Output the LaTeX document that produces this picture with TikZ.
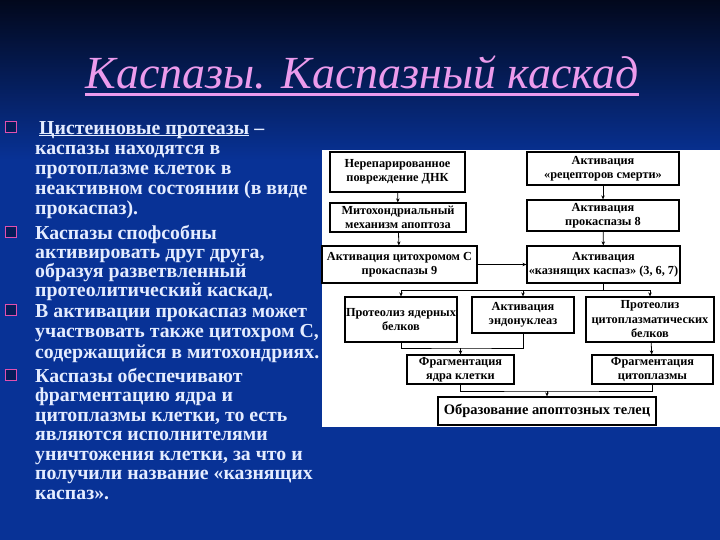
\documentclass[tikz,border=0pt]{standalone}
\usepackage{fontspec}
\setmainfont{Liberation Serif}
\usetikzlibrary{positioning,arrows.meta}
\definecolor{slideTop}{RGB}{2,8,28}
\definecolor{slideBlue}{RGB}{8,50,150}
\definecolor{titlePink}{RGB}{236,155,236}
\definecolor{textPale}{RGB}{228,236,255}
\definecolor{bulletPink}{RGB}{225,80,175}

\begin{document}
\begin{tikzpicture}[
    x=1pt, y=-1pt,
    box/.style={draw, line width=1.2pt, fill=white, inner sep=1pt, align=center, text=black, font=\bfseries\fontsize{12.3}{13.6}\selectfont},
    para/.style={anchor=north west, inner sep=0pt, align=left, text=textPale, font=\bfseries\fontsize{19.8}{19.5}\selectfont},
    bul/.style={draw=bulletPink, fill=slideTop!50!slideBlue, line width=1.4pt, minimum size=10.5pt, inner sep=0pt},
    arr/.style={-{Stealth[length=4pt,width=3.5pt]}, line width=0.8pt},
    link/.style={line width=0.8pt},
]
\useasboundingbox (0,0) rectangle (720,540);
% slide background
\shade[top color=slideTop, bottom color=slideBlue] (0,0) rectangle (720,160);
\fill[slideBlue] (0,160) rectangle (720,540);

% Title
\node[inner sep=0pt, text=titlePink, font=\itshape\fontsize{46}{50}\selectfont] (ttl) at (362,72) {Каспазы. Каспазный каскад};
\draw[titlePink, line width=3pt] ([yshift=-6pt]ttl.base west) -- ([yshift=-6pt]ttl.base east);

% white panel
\fill[white] (322,150) rectangle (720,427);

% Bullets
\node[bul] (q1) at (11,127) {};
\node[bul] (q2) at (11,232) {};
\node[bul] (q3) at (11,310) {};
\node[bul] (q4) at (11,375) {};
\node[para, font=\bfseries\fontsize{19.8}{20}\selectfont] (t1) at (35,121) {\hspace{4pt}\underline{\smash{Цистеиновые протеазы}}\vphantom{Ц} –\\каспазы находятся в\\протоплазме клеток в\\неактивном состоянии (в виде\\прокаспаз).};
\node[para, font=\bfseries\fontsize{19.8}{19.2}\selectfont] (t2) at (35,225) {Каспазы спофсобны\\активировать друг друга,\\образуя разветвленный\\протеолитический каскад.};
\node[para, font=\bfseries\fontsize{19.8}{20.5}\selectfont] (t3) at (35,304) {В активации прокаспаз может\\участвовать также цитохром С,\\содержащийся в митохондриях.};
\node[para] (t4) at (35,368) {Каспазы обеспечивают\\фрагментацию ядра и\\цитоплазмы клетки, то есть\\являются исполнителями\\уничтожения клетки, за что и\\получили название «казнящих\\каспаз».};

% Cascade boxes
\node[box, minimum width=135pt, minimum height=40pt] (dna) at (397.5,172) {Нерепарированное\\повреждение ДНК};
\node[box, minimum width=136pt, minimum height=29pt] (mito) at (398,217.5) {Митохондриальный\\механизм апоптоза};
\node[box, minimum width=155pt, minimum height=37pt] (cas9) at (399.5,264.5) {Активация цитохромом С\\прокаспазы 9};
\node[box, minimum width=152pt, minimum height=33pt] (death) at (603,168.5) {Активация\\«рецепторов смерти»};
\node[box, minimum width=152pt, minimum height=31pt] (cas8) at (603,215.5) {Активация\\прокаспазы 8};
\node[box, minimum width=153pt, minimum height=37pt] (exec) at (603.5,264.5) {Активация\\«казнящих каспаз» (3, 6, 7)};
\node[box, minimum width=112pt, minimum height=45pt] (nucprot) at (401,319.5) {Протеолиз ядерных\\белков};
\node[box, minimum width=102pt, minimum height=36pt] (endo) at (523,315) {Активация\\эндонуклеаз};
\node[box, minimum width=128pt, minimum height=45pt, font=\bfseries\fontsize{12.3}{14.5}\selectfont] (cytprot) at (650,319.5) {Протеолиз\\цитоплазматических\\белков};
\node[box, minimum width=107pt, minimum height=29pt] (nucfrag) at (460.5,369.5) {Фрагментация\\ядра клетки};
\node[box, minimum width=121pt, minimum height=29pt] (cytfrag) at (652.5,369.5) {Фрагментация\\цитоплазмы};
\node[box, minimum width=218pt, minimum height=28pt, font=\bfseries\fontsize{14.5}{16}\selectfont] (apo) at (547,411) {Образование апоптозных телец};

% Arrows
\draw[arr] (dna) -- (mito);
\draw[arr] (mito) -- (cas9);
\draw[arr] (cas9) -- (exec);
\draw[arr] (death) -- (cas8);
\draw[arr] (cas8) -- (exec);

\coordinate (split) at ([yshift=-7pt]exec.south);
\draw[link] (exec) -- (split);
\draw[arr] (split) -| (nucprot);
\draw[arr] (split) -| (endo);
\draw[arr] (split) -| (cytprot);

\coordinate (joinA) at (460.5,348);
\draw[link] (nucprot) |- (joinA) -| (endo);
\draw[arr] (joinA) -- (nucfrag);
\draw[arr] (cytprot) -- (cytfrag);

\coordinate (joinB) at (547,391);
\draw[link] (nucfrag) |- (joinB) -| (cytfrag);
\draw[arr] (joinB) -- (apo);
\end{tikzpicture}
\end{document}
